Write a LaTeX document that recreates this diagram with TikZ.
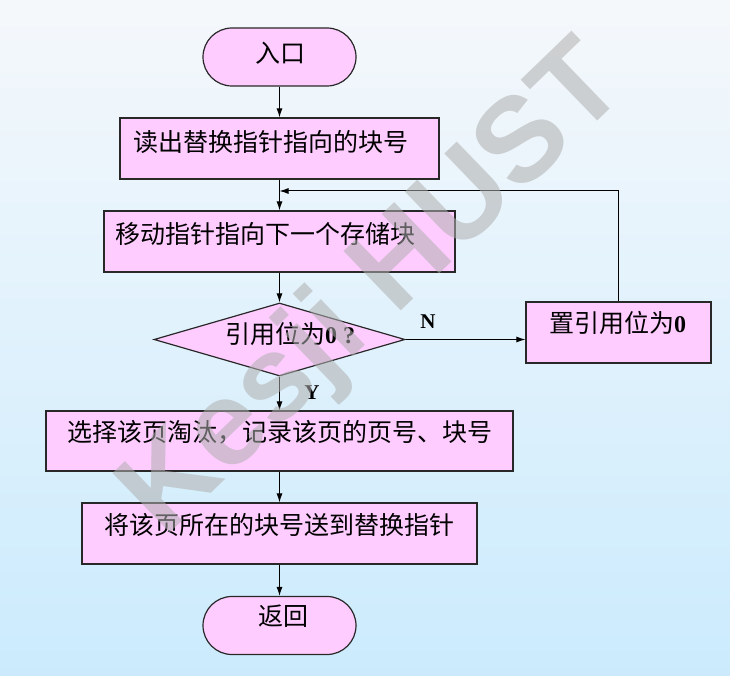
\documentclass[tikz,border=0pt]{standalone}
\usepackage{fontspec}
\setmainfont{Liberation Serif}
\newfontfamily\cjk{Noto Sans CJK SC}
\newfontfamily\stampfont{Liberation Sans}
\usetikzlibrary{arrows.meta,shapes.geometric}
\definecolor{pinkbox}{rgb}{1, 0.8, 1}
\definecolor{bgtop}{RGB}{245,248,251}
\definecolor{bgbot}{RGB}{203,235,253}
\definecolor{edge}{RGB}{40,40,40}
\definecolor{stampgray}{RGB}{175,175,175}
\newcommand{\digits}[1]{{\fontsize{24}{28}\selectfont\rmfamily\bfseries #1}}

\begin{document}
\begin{tikzpicture}[x=1pt, y=-1pt,
    box/.style={draw=edge, line width=1.2pt, fill=pinkbox, inner sep=0pt},
    term/.style={box, rounded corners=29pt, minimum width=153pt, minimum height=58pt},
    txt/.style={inner sep=0pt, font=\cjk\fontsize{25}{30}\selectfont},
    lat/.style={inner sep=0pt, font=\bfseries\fontsize{21}{24}\selectfont},
    arr/.style={-{Latex[length=9pt,width=6pt]}, line width=1pt},
    wmark/.style={font=\stampfont\bfseries\fontsize{120}{120}\selectfont, text=stampgray, opacity=0.55}]
%      \draw [help lines, step=50] (0,0) grid (730,676);

      \shade [top color=bgtop, bottom color=bgbot] (0,0) rectangle (730,676);
      \useasboundingbox (0,0) rectangle (730,676);

      \node [term] (start) at (279.5,57) {};
      \node [txt] (starttext) at (280,53) {入口};

      \node [box, minimum width=319pt, minimum height=61pt] (read) at (279.5,148.5) {};
      \node [txt, anchor=west] (readtext) at (133,142) {读出替换指针指向的块号};

      \node [box, minimum width=351pt, minimum height=61pt] (move) at (279.5,241.5) {};
      \node [txt, anchor=west] (movetext) at (115,234) {移动指针指向下一个存储块};

      \node [box, diamond, minimum width=251pt, minimum height=73pt] (test) at (279.5,339.5) {};
      \node [txt, anchor=west] (testtext) at (225,334) {引用位为\digits{0 ?}};

      \node [box, minimum width=185pt, minimum height=61pt] (reset) at (618.5,332.5) {};
      \node [txt, anchor=west] (resettext) at (549,323) {置引用位为\digits{0}};

      \node [box, minimum width=467pt, minimum height=60pt] (pick) at (279.5,441) {};
      \node [txt, anchor=west] (picktext) at (67,432) {选择该页淘汰，记录该页的页号、块号};

      \node [box, minimum width=395pt, minimum height=61pt] (send) at (279.5,533.5) {};
      \node [txt, anchor=west] (sendtext) at (104,525) {将该页所在的块号送到替换指针};

      \node [term] (stop) at (279.5,625.5) {};
      \node [txt] (stoptext) at (283,616) {返回};

      \draw [arr] (start) -- (read);
      \draw [arr] (read) -- (move);
      \draw [arr] (move) -- (test);
      \draw [arr] (test) -- (pick);
      \draw [arr] (pick) -- (send);
      \draw [arr] (send) -- (stop);

      \draw [arr] (test.east) -- (test.east -| reset.west);
      \node [lat] (no) at (428,322) {N};
      \node [lat] (yes) at (312,393) {Y};

      \coordinate (back) at (279.5,191);
      \draw [arr] (reset.north) |- (back);

      % watermark
      \node [wmark, rotate=44] (stamp) at (376,292) {Kesji HUST};

    \end{tikzpicture}
\end{document}
